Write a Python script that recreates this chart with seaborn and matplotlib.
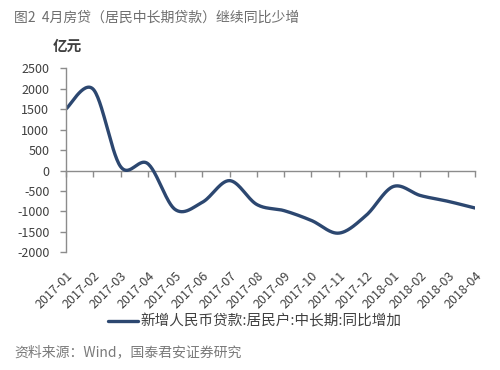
import numpy as np
import matplotlib
matplotlib.use("Agg")
import matplotlib.pyplot as plt
import seaborn as sns

months = ["2017-01", "2017-02", "2017-03", "2017-04", "2017-05", "2017-06",
          "2017-07", "2017-08", "2017-09", "2017-10", "2017-11", "2017-12",
          "2018-01", "2018-02", "2018-03", "2018-04"]
values = [1510, 1990, 100, 170, -950, -775, -245, -830, -980, -1220,
          -1530, -1100, -390, -610, -750, -915]
yticks = [2500, 2000, 1500, 1000, 500, 0, -500, -1000, -1500, -2000]
series_name = "新增人民币贷款:居民户:中长期:同比增加"

sns.set_theme(style="white")
plt.rcParams['font.family'] = ['Noto Sans CJK SC', 'DejaVu Sans']
plt.rcParams['axes.unicode_minus'] = False


def smooth(xv, yv, n=30):
    # Catmull-Rom style cubic Bezier smoothing (Excel "smoothed line" look)
    p = np.column_stack([xv, yv]).astype(float)
    pts = np.vstack([p[0], p, p[-1]])
    out = []
    t = np.linspace(0, 1, n, endpoint=False)[:, None]
    for i in range(1, len(pts) - 2):
        p0, p1, p2, p3 = pts[i - 1], pts[i], pts[i + 1], pts[i + 2]
        c1 = p1 + (p2 - p0) / 6.0
        c2 = p2 - (p3 - p1) / 6.0
        seg = ((1 - t) ** 3) * p1 + 3 * ((1 - t) ** 2) * t * c1 + 3 * (1 - t) * t ** 2 * c2 + t ** 3 * p2
        out.append(seg)
    out.append(p[-1][None, :])
    out = np.vstack(out)
    return out[:, 0], out[:, 1]


x_idx = np.arange(len(months))
sx, sy = smooth(x_idx, values)

fig = plt.figure(figsize=(5.0, 3.7), dpi=100)
ax = fig.add_axes([0.132, 0.318, 0.818, 0.497])

sns.lineplot(x=sx, y=sy, sort=False, estimator=None, ax=ax,
             color="#2C4770", linewidth=2.4, label=series_name)

ax.set_xlim(0, len(months) - 1)
ax.set_ylim(-2000, 2500)
ax.set_yticks(yticks)
ax.set_yticklabels([str(v) for v in yticks])

axis_col = "#8C8C8C"
for s in ["top", "right", "bottom"]:
    ax.spines[s].set_visible(False)
ax.spines["left"].set_color(axis_col)
ax.spines["left"].set_linewidth(1.0)

ax.tick_params(axis="y", which="both", left=True, length=4, width=1,
               color=axis_col, pad=8, labelsize=9, labelcolor="#404040")
ax.set_xticks(x_idx)
ax.set_xticklabels(months, rotation=45, ha="right", va="top",
                   rotation_mode="anchor")
ax.tick_params(axis="x", which="both", bottom=False, length=0, pad=12,
               labelsize=9, labelcolor="#404040")

# zero line with tick marks (category axis crossing at 0)
zero_frac = (0 - (-2000)) / (2500 - (-2000))
sec = ax.secondary_xaxis(zero_frac)
sec.set_xticks(x_idx)
sec.set_xticklabels([])
sec.tick_params(axis="x", direction="out", length=4, width=1, color=axis_col)
sec.spines["bottom"].set_color(axis_col)
sec.spines["bottom"].set_linewidth(1.0)
for s in ["top", "left", "right"]:
    sec.spines[s].set_visible(False)
sec.xaxis.set_ticks_position("bottom")
sec.spines["bottom"].set_visible(True)

ax.get_legend().remove()
handles, labels = ax.get_legend_handles_labels()
fig.legend(handles, labels, loc="center", bbox_to_anchor=(0.51, 0.13),
           frameon=False, fontsize=10.5, handlelength=2.0, handletextpad=0.2,
           labelcolor="#404040")

fig.text(0.028, 0.953, "图2  4月房贷（居民中长期贷款）继续同比少增",
         fontsize=10, color="#6E6E6E", ha="left", va="center")
fig.text(0.106, 0.877, "亿元", fontsize=10.5, color="#404040",
         ha="left", va="center", fontweight="bold")
fig.text(0.028, 0.048, "资料来源：Wind，国泰君安证券研究",
         fontsize=10, color="#7A7A7A", ha="left", va="center")

fig.savefig("out.png", dpi=100, facecolor="white")
